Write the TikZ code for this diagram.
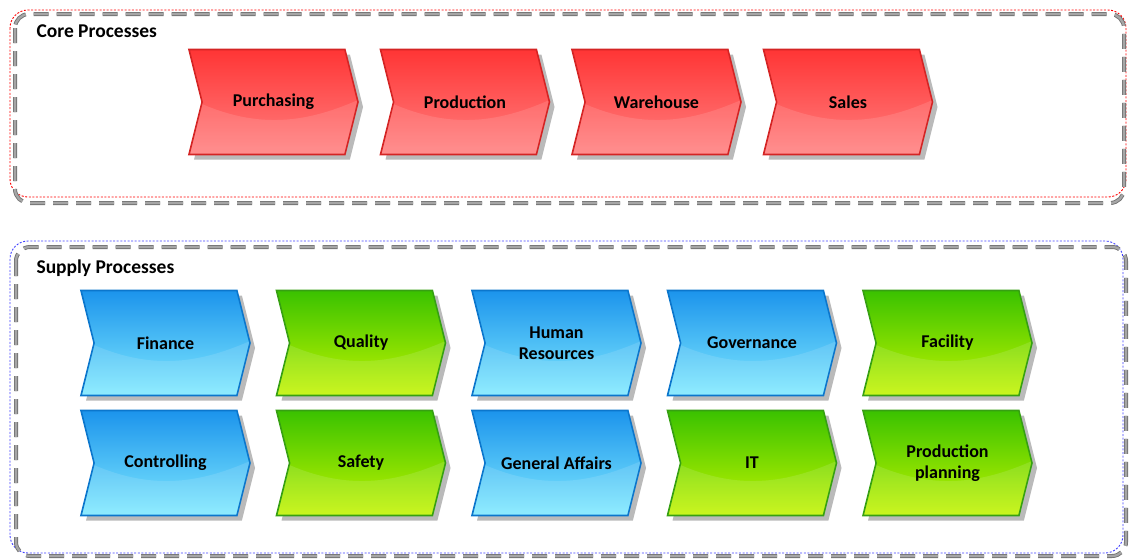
\documentclass[tikz,border=0pt]{standalone}
\usepackage{fontspec}
\setmainfont{Carlito}
\usetikzlibrary{shapes.symbols,shadows,positioning}

\definecolor{redtop}{HTML}{FF3535}
\definecolor{redbot}{HTML}{FF8080}
\definecolor{redline}{HTML}{D42424}
\definecolor{bluetop}{HTML}{1C94EC}
\definecolor{bluebot}{HTML}{80EAFF}
\definecolor{blueline}{HTML}{0B76CC}
\definecolor{greentop}{HTML}{3AC200}
\definecolor{greenbot}{HTML}{C4F500}
\definecolor{greenline}{HTML}{36A012}

\begin{document}
\begin{tikzpicture}[x=1pt, y=-1pt, node distance={191.5pt},
    proc/.style = {signal, signal from=west, signal to=east, signal pointer angle=152,
      minimum width=169pt, minimum height=105pt, line width=1.6pt, align=center,
      font=\bfseries\fontsize{18}{21}\selectfont,
      drop shadow={shadow xshift=5pt, shadow yshift=-5pt, fill=black!45, opacity=.6},
      path picture={\fill[white, opacity=.12]
        ([yshift=4pt]path picture bounding box.west)
        .. controls ([xshift=-20pt, yshift=-28pt]path picture bounding box.center)
        and ([xshift=30pt, yshift=-22pt]path picture bounding box.center)
        .. ([yshift=2pt]path picture bounding box.east)
        -- (path picture bounding box.south east)
        -- (path picture bounding box.south west) -- cycle;}},
    redbox/.style = {proc, draw=redline, top color=redtop, bottom color=redbot},
    bluebox/.style = {proc, draw=blueline, top color=bluetop, bottom color=bluebot},
    greenbox/.style = {proc, draw=greenline, top color=greentop, bottom color=greenbot},
    frame/.style = {line width=4pt, black!55, dash pattern=on 15pt off 8pt, rounded corners=14pt},
    framein/.style = {line width=2.2pt, black!35, dash pattern=on 15pt off 8pt, rounded corners=14pt},
    title/.style = {anchor=west, font=\bfseries\fontsize{19.5}{22}\selectfont}]
  \useasboundingbox (0,0) rectangle (1129,558);

  % core processes
  \draw[red, dash pattern=on 2pt off 1.6pt, line width=.9pt, rounded corners=18pt] (10,10) rectangle (1126,197);
  \draw[frame] (15,14) rectangle (1124,203);
  \draw[framein] (15,14) rectangle (1124,203);
  \node[title] (core) at (33,31) {Core Processes};
  \node[redbox] (pur) at (273.5,102) {Purchasing};
  \node[redbox] (prod) [right of=pur] {Production};
  \node[redbox] (ware) [right of=prod] {Warehouse};
  \node[redbox] (sales) [right of=ware] {Sales};

  % supply processes
  \draw[blue!75, dash pattern=on 2pt off 1.6pt, line width=.9pt, rounded corners=18pt] (10,241) rectangle (1123,553);
  \draw[frame] (16,247) rectangle (1126,556);
  \draw[framein] (16,247) rectangle (1126,556);
  \node[title] (supply) at (33,268) {Supply Processes};
  \begin{scope}[node distance={195.5pt}]
    \node[bluebox] (fin) at (165.5,343) {Finance};
    \node[greenbox] (qual) [right of=fin] {Quality};
    \node[bluebox] (hr) [right of=qual] {Human\\Resources};
    \node[bluebox] (gov) [right of=hr] {Governance};
    \node[greenbox] (fac) [right of=gov] {Facility};
    \node[bluebox] (ctrl) [below of=fin, node distance=120pt] {Controlling};
    \node[greenbox] (safe) [right of=ctrl] {Safety};
    \node[bluebox] (ga) [right of=safe] {General Affairs};
    \node[greenbox] (it) [right of=ga] {IT};
    \node[greenbox] (pp) [right of=it] {Production\\planning};
  \end{scope}
\end{tikzpicture}
\end{document}
